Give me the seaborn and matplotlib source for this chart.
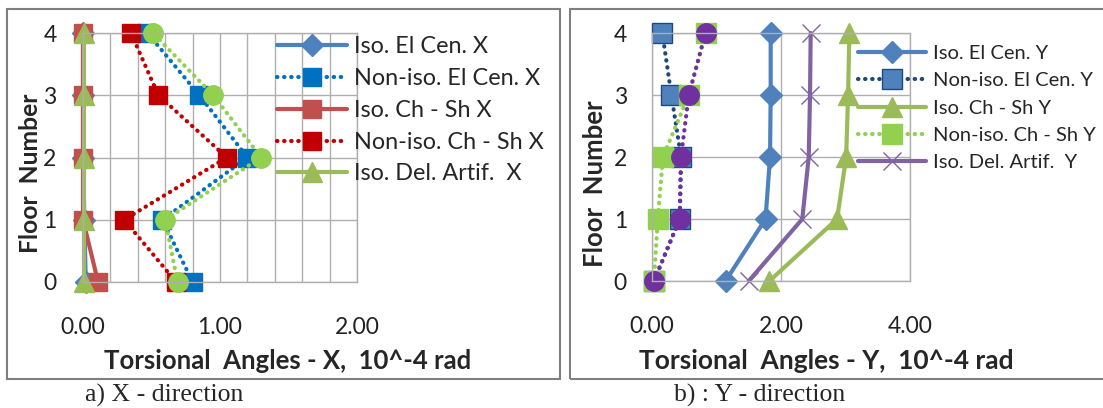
import numpy as np
import pandas as pd
import matplotlib
matplotlib.use("Agg")
import matplotlib.pyplot as plt
from matplotlib.patches import Rectangle
import seaborn as sns

# Données (angles de torsion, 10^-4 rad)
floors = [0, 1, 2, 3, 4]

# Direction X
iso_elcen_x = [0.02, 0.01, 0.00, 0.00, 0.00]
noniso_elcen_x = [0.80, 0.58, 1.20, 0.85, 0.47]
iso_chsh_x = [0.11, 0.00, 0.00, 0.00, 0.00]
noniso_chsh_x = [0.68, 0.30, 1.05, 0.55, 0.35]
iso_delart_x = [0.01, 0.01, 0.01, 0.01, 0.01]
noniso_delart_x = [0.69, 0.60, 1.30, 0.95, 0.51]

# Direction Y
iso_elcen_y = [1.14, 1.76, 1.83, 1.84, 1.84]
noniso_elcen_y = [0.03, 0.43, 0.45, 0.30, 0.16]
iso_chsh_y = [1.82, 2.87, 3.01, 3.04, 3.06]
noniso_chsh_y = [0.03, 0.09, 0.17, 0.57, 0.83]
iso_delart_y = [1.50, 2.33, 2.43, 2.45, 2.46]
noniso_delart_y = [0.03, 0.43, 0.45, 0.57, 0.83]

labels_x = ["Iso. El Cen. X", "Non-iso. El Cen. X", "Iso. Ch - Sh X",
            "Non-iso. Ch - Sh X", "Iso. Del. Artif.  X"]
labels_y = ["Iso. El Cen. Y", "Non-iso. El Cen. Y", "Iso. Ch - Sh Y",
            "Non-iso. Ch - Sh Y", "Iso. Del. Artif.  Y"]

sns.set_style("white")
plt.rcParams['font.family'] = ['Lato', 'DejaVu Sans']

W, H = 1103, 408
fig = plt.figure(figsize=(W / 100, H / 100), dpi=100)


def px_axes(x0, y0, x1, y1):
    return fig.add_axes([x0 / W, 1 - y1 / H, (x1 - x0) / W, (y1 - y0) / H])


ax1 = px_axes(83, 33, 357, 282)
ax2 = px_axes(652, 33, 910, 281)

dot = (0, (0.1, 1.6))


def draw(ax, xs, color, marker, ms, ls, label, lw=3, mfc=None, mec=None, mew=1):
    df = pd.DataFrame({"angle": xs, "floor": floors})
    sns.lineplot(data=df, x="angle", y="floor", orient="y", estimator=None, sort=False,
                 ax=ax, color=color, marker=marker, markersize=ms, linestyle=ls,
                 linewidth=lw, markerfacecolor=mfc or color, markeredgecolor=mec or color,
                 markeredgewidth=mew, dash_capstyle="round", clip_on=False, label=label)


# --- Panneau a) direction X ---
draw(ax1, iso_elcen_x, "#4F81BD", "D", 11, "-", labels_x[0])
draw(ax1, noniso_elcen_x, "#0070C0", "s", 13, dot, labels_x[1])
draw(ax1, iso_chsh_x, "#C0504D", "s", 13, "-", labels_x[2])
draw(ax1, noniso_chsh_x, "#C00000", "s", 13, dot, labels_x[3])
draw(ax1, iso_delart_x, "#9BBB59", "^", 14, "-", labels_x[4])
draw(ax1, noniso_delart_x, "#92D050", "o", 14, dot, "_nolegend_")

# --- Panneau b) direction Y ---
draw(ax2, iso_elcen_y, "#4F81BD", "D", 11, "-", labels_y[0])
draw(ax2, noniso_elcen_y, "#1F497D", "s", 14, dot, labels_y[1],
     mfc="#4F81BD", mec="#1F497D")
draw(ax2, iso_chsh_y, "#9BBB59", "^", 14, "-", labels_y[2])
draw(ax2, noniso_chsh_y, "#92D050", "s", 14, dot, labels_y[3])
draw(ax2, iso_delart_y, "#8064A2", "x", 13, "-", labels_y[4], mew=1)
draw(ax2, noniso_delart_y, "#7030A0", "o", 14, dot, "_nolegend_")

grid_c = "#AFAFAF"
for ax, xmax, major, minor, ypad in [(ax1, 2.0, 1.0, 0.2, 19), (ax2, 4.0, 2.0, 2.0, 18)]:
    ax.set_xlim(0, xmax)
    ax.set_ylim(0, 4)
    ax.set_xticks(np.arange(0, xmax + 0.01, major))
    ax.set_xticks(np.arange(0, xmax + 0.01, minor), minor=True)
    ax.set_yticks(floors)
    ax.xaxis.set_major_formatter(matplotlib.ticker.FormatStrFormatter("%.2f"))
    ax.grid(True, which="both", color=grid_c, linewidth=1)
    ax.set_axisbelow(True)
    for s in ax.spines.values():
        s.set_color(grid_c)
        s.set_linewidth(1)
    ax.tick_params(axis="both", which="both", length=0, labelsize=16.5, labelcolor="#222222")
    ax.tick_params(axis="x", pad=25)
    ax.tick_params(axis="y", pad=ypad)

ax1.set_xlabel("Torsional  Angles - X,  10^-4 rad", fontsize=18.5, fontweight="bold")
ax1.set_ylabel("Floor  Number", fontsize=17.7, fontweight="bold")
ax2.set_xlabel("Torsional  Angles - Y,  10^-4 rad", fontsize=19, fontweight="bold")
ax2.set_ylabel("Floor  Number", fontsize=18.5, fontweight="bold")
for ax, xl, yl in [(ax1, (0.748, -0.317), (-0.19, 0.438)),
                   (ax2, (0.674, -0.323), (-0.221, 0.391))]:
    ax.xaxis.label.set_va("center")
    ax.yaxis.label.set_va("center")
    ax.xaxis.set_label_coords(*xl)
    ax.yaxis.set_label_coords(*yl)

ax1.legend(loc="upper left", bbox_to_anchor=(0.708, 0.986), frameon=False, fontsize=16.8,
           borderpad=0, borderaxespad=0, handlelength=3.0, handletextpad=0.3,
           labelspacing=0.46, numpoints=1)
ax2.legend(loc="upper left", bbox_to_anchor=(0.798, 0.952), frameon=False, fontsize=14.5,
           borderpad=0, borderaxespad=0, handlelength=3.4, handletextpad=0.35,
           labelspacing=0.51, numpoints=1)

# cadres des deux graphiques
for x0, x1 in [(7, 560), (570, 1115)]:
    fig.patches.append(Rectangle((x0 / W, 1 - 379 / H), (x1 - x0) / W, 370 / H,
                                 transform=fig.transFigure, fill=False,
                                 edgecolor="#7F7F7F", linewidth=1.5))

fig.text(85 / W, 1 - 395 / H, "a) X - direction", fontsize=18.5, va="center",
         family=["Liberation Serif", "DejaVu Serif"])
fig.text(674 / W, 1 - 395 / H, "b) : Y - direction", fontsize=18.5, va="center",
         family=["Liberation Serif", "DejaVu Serif"])

fig.savefig("out.png", dpi=100)
